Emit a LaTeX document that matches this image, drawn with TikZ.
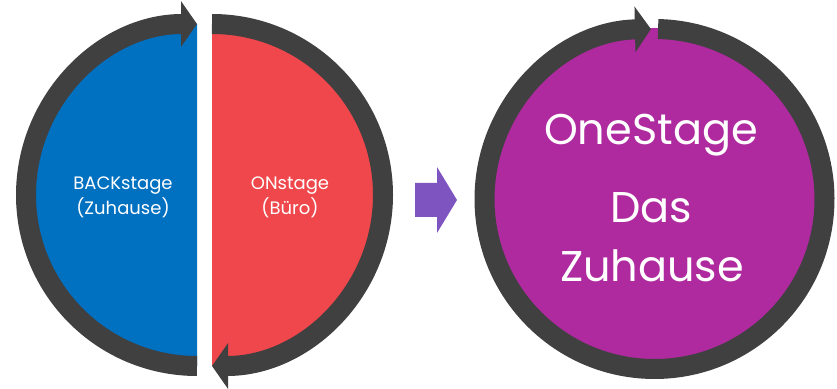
\documentclass[tikz,border=0pt]{standalone}
\usepackage{fontspec}
\setmainfont{Poppins}
\usetikzlibrary{arrows.meta}
\definecolor{ringgray}{HTML}{404040}
\definecolor{backblue}{HTML}{0070C0}
\definecolor{onred}{HTML}{EF474B}
\definecolor{onepurple}{HTML}{AF2A9F}
\definecolor{arrowpurple}{HTML}{7E55C0}
\tikzset{
  ring/.style={draw=ringgray, line width=20pt, line cap=butt,
    -{Triangle[width=45pt,length=16pt]}},
  smalltxt/.style={text=white, font=\fontsize{18}{20}\selectfont, anchor=base, inner sep=0pt},
  bigtxt/.style={text=white, font=\fontsize{43}{46}\selectfont, anchor=base, inner sep=0pt}
}
\begin{document}
\begin{tikzpicture}[x=1pt,y=1pt]
\useasboundingbox (0,0) rectangle (837,388);
% left circle halves
\fill[backblue] (197,364) arc[start angle=90,end angle=270,radius=171] -- cycle;
\fill[onred] (212,364) arc[start angle=90,end angle=-90,radius=171] -- cycle;
\draw[ring] (197,22) arc[start angle=270,end angle=90,radius=171];
\draw[ring] (212,364) arc[start angle=90,end angle=-90,radius=171];
% right circle
\fill[onepurple] (654.5,189) circle[radius=171];
\draw[ring] (654.5,189) ++(88.8:170) arc[start angle=88.8,end angle=-268.8,radius=170];
% middle arrow
\fill[arrowpurple] (415,171) -- (437,171) -- (437,155) -- (457,188) -- (437,221) -- (437,205) -- (415,205) -- cycle;
% texts
\node[smalltxt] (b1) at (123,198) {BACKstage};
\node[smalltxt] (b2) at (123,173) {(Zuhause)};
\node[smalltxt] (o1) at (290,198) {ONstage};
\node[smalltxt] (o2) at (290,173) {(Büro)};
\node[bigtxt] (t1) at (651,243) {OneStage};
\node[bigtxt] (t2) at (651,165) {Das};
\node[bigtxt] (t3) at (652,106) {Zuhause};
\end{tikzpicture}
\end{document}
